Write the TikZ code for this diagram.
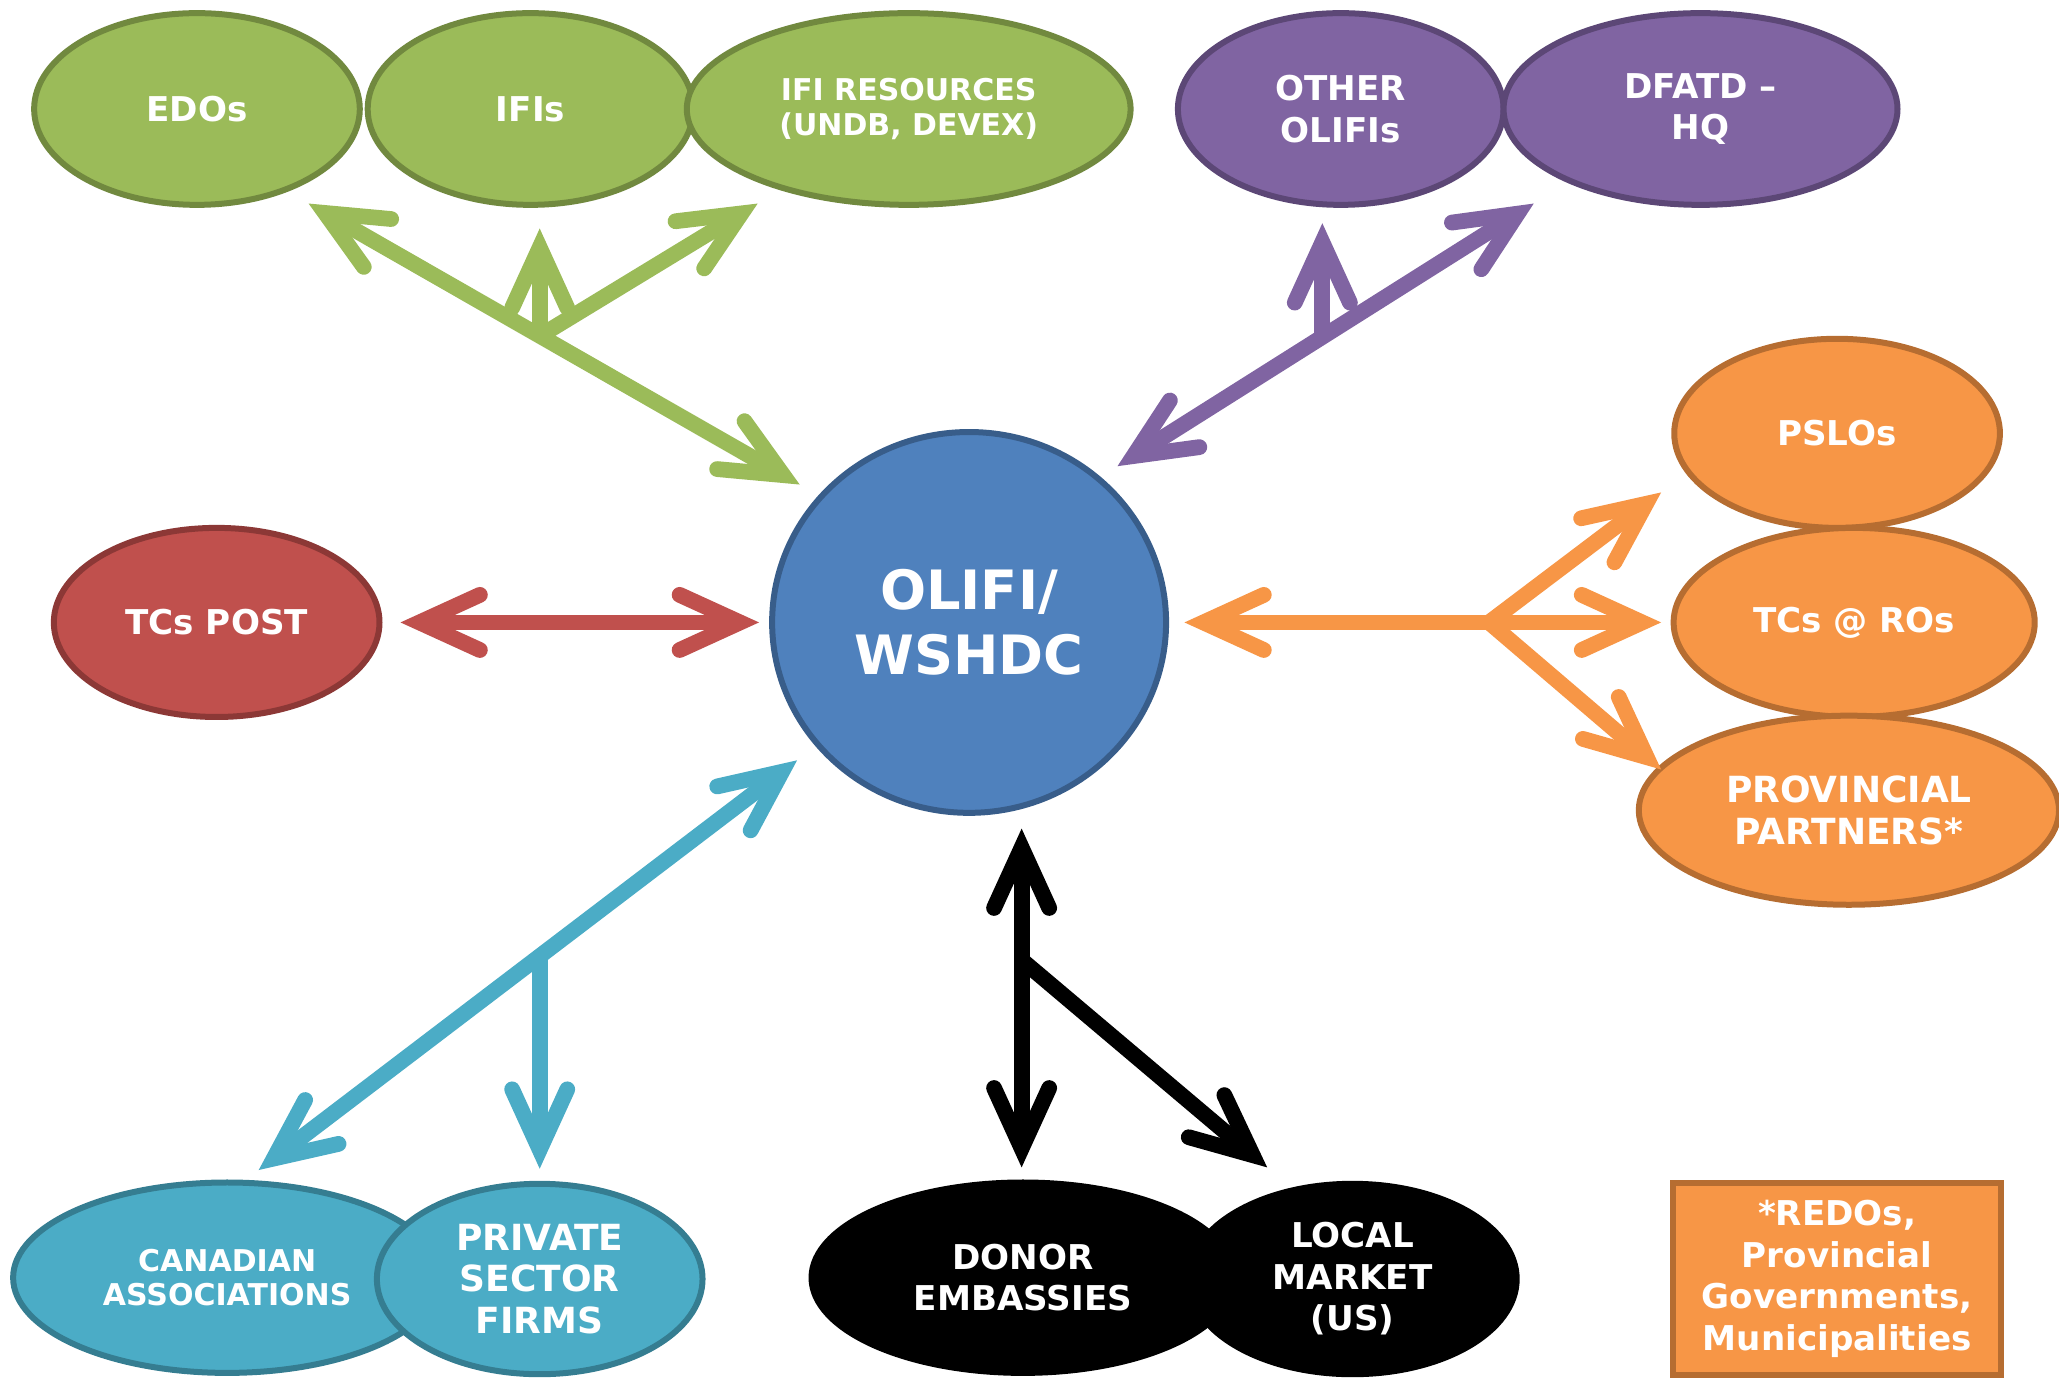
\documentclass[tikz,border=0pt]{standalone}
\usepackage{fontspec}
\setmainfont{DejaVu Sans}
\usetikzlibrary{arrows.meta,shapes.geometric}
\definecolor{grn}{HTML}{9BBB59}\definecolor{grnd}{HTML}{71893F}
\definecolor{prp}{HTML}{8064A2}\definecolor{prpd}{HTML}{5C4776}
\definecolor{org}{HTML}{F79646}\definecolor{orgd}{HTML}{B66D31}
\definecolor{rd}{HTML}{C0504D}\definecolor{rdd}{HTML}{8C3836}
\definecolor{blu}{HTML}{4F81BD}\definecolor{blud}{HTML}{385D8A}
\definecolor{cyn}{HTML}{4BACC6}\definecolor{cynd}{HTML}{357D91}

\begin{document}
\begin{tikzpicture}[x=0.2mm, y=-0.2mm,
  blob/.style={ellipse, line width=2.6pt, inner sep=0pt, align=center, text=white,
    font=\bfseries\fontsize{14.8}{18}\selectfont},
  small/.style={font=\bfseries\fontsize{13}{14.8}\selectfont},
  wide/.style={font=\bfseries\fontsize{15.6}{18}\selectfont},
  link/.style={line width=0.24cm},
  >={Straight Barb[length=9.2mm, width=8.4mm, line join=miter, line cap=round]}]
  \useasboundingbox (0,0) rectangle (1568,1052);

  \node[blob, fill=grn, draw=grnd, minimum width=4.96cm, minimum height=2.92cm] (edos) at (150,83) {EDOs};
  \node[blob, fill=grn, draw=grnd, minimum width=4.96cm, minimum height=2.92cm] (ifis) at (404,83) {IFIs};
  \node[blob, small, fill=grn, draw=grnd, minimum width=6.76cm, minimum height=2.92cm] (ifires) at (692,83) {IFI RESOURCES\\(UNDB, DEVEX)};
  \node[blob, fill=prp, draw=prpd, minimum width=4.96cm, minimum height=2.92cm] (olifis) at (1021,83) {OTHER\\OLIFIs};
  \node[blob, fill=prp, draw=prpd, minimum width=6cm, minimum height=2.92cm] (dfatd) at (1295,83) {DFATD –\\HQ};
  \node[blob, fill=org, draw=orgd, minimum width=4.96cm, minimum height=2.88cm] (pslos) at (1399,330) {PSLOs};
  \node[blob, fill=org, draw=orgd, minimum width=5.5cm, minimum height=2.88cm] (tcsros) at (1412,474) {TCs @ ROs};
  \node[blob, wide, fill=org, draw=orgd, minimum width=6.4cm, minimum height=2.88cm] (prov) at (1408,617) {PROVINCIAL\\PARTNERS*};
  \node[blob, fill=rd, draw=rdd, minimum width=4.96cm, minimum height=2.88cm] (tcspost) at (165,474) {TCs POST};
  \node[blob, fill=blu, draw=blud, minimum width=6cm, minimum height=5.8cm,
    font=\bfseries\fontsize{23.5}{28}\selectfont] (hub) at (738,474) {OLIFI/\\WSHDC};
  \node[blob, small, fill=cyn, draw=cynd, minimum width=6.52cm, minimum height=2.9cm] (canada) at (173,973) {CANADIAN\\ASSOCIATIONS};
  \node[blob, wide, fill=cyn, draw=cynd, minimum width=4.96cm, minimum height=2.9cm] (private) at (411,974) {PRIVATE\\SECTOR\\FIRMS};
  \node[blob, fill=black, draw=black, minimum width=6.44cm, minimum height=2.9cm] (donor) at (779,973) {DONOR\\EMBASSIES};
  \node[blob, fill=black, draw=black, minimum width=5cm, minimum height=2.9cm] (local) at (1030,974) {LOCAL\\MARKET\\(US)};
  \node[rectangle, line width=2.6pt, fill=org, draw=orgd, text=white, align=center, inner sep=0pt,
    minimum width=5cm, minimum height=2.92cm, font=\bfseries\fontsize{14.8}{18}\selectfont] (note) at (1399,974)
    {*REDOs,\\Provincial\\Governments,\\Municipalities};

  \coordinate (gEdo) at (235,155);
  \coordinate (gHub) at (609,369);
  \coordinate (gMid) at (411,256);
  \coordinate (gIfi) at (411,174);
  \coordinate (gRes) at (577,155);
  \coordinate (pHub) at (851,355);
  \coordinate (pDfa) at (1168,155);
  \coordinate (pMid) at (1007,257);
  \coordinate (pOth) at (1007,170);
  \coordinate (rPost) at (305,474);
  \coordinate (rHub) at (578,474);
  \coordinate (oHub) at (902,474);
  \coordinate (oMid) at (1134,474);
  \coordinate (oRos) at (1265,474);
  \coordinate (oPsl) at (1265,375);
  \coordinate (oPro) at (1265,586);
  \coordinate (cHub) at (607,579);
  \coordinate (cMid) at (411,730);
  \coordinate (cCan) at (197,891);
  \coordinate (cPri) at (411,890);
  \coordinate (kHub) at (778,631);
  \coordinate (kMid) at (778,731);
  \coordinate (kDon) at (778,889);
  \coordinate (kLoc) at (965,889);

  \draw[link, grn, <->] (gEdo) -- (gHub);
  \draw[link, grn, ->] (gMid) -- (gIfi);
  \draw[link, grn, ->] (gMid) -- (gRes);
  \draw[link, prp, <->] (pHub) -- (pDfa);
  \draw[link, prp, ->] (pMid) -- (pOth);
  \draw[link, rd, <->] (rPost) -- (rHub);
  \draw[link, org, <->] (oHub) -- (oRos);
  \draw[link, org, ->] (oMid) -- (oPsl);
  \draw[link, org, ->] (oMid) -- (oPro);
  \draw[link, cyn, <->] (cCan) -- (cHub);
  \draw[link, cyn, ->] (cMid) -- (cPri);
  \draw[link, black, <->] (kHub) -- (kDon);
  \draw[link, black, ->] (kMid) -- (kLoc);
\end{tikzpicture}
\end{document}
